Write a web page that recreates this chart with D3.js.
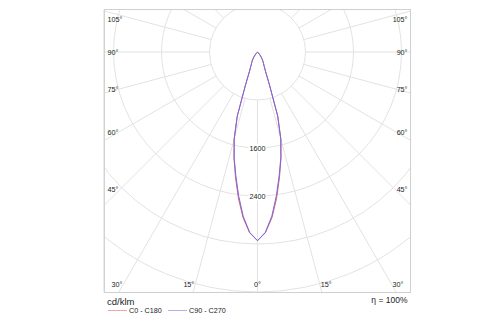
<!DOCTYPE html>
<html>
<head>
<meta charset="utf-8">
<script src="https://cdn.jsdelivr.net/npm/d3@7"></script>
<style>
  html, body { margin: 0; padding: 0; background: #fff; }
  svg { display: block; }
  text { font-family: "Liberation Sans", Arial, sans-serif; fill: #222; }
</style>
</head>
<body>
<svg id="chart" width="500" height="325"></svg>
<script>
// ---- data (angles in degrees from nadir, intensities in cd/klm) ----
const gammaAngles = [0, 2.5, 5, 7.5, 10, 12.5, 15, 17.5, 20, 22.5, 25, 27.5, 30, 32.5, 35, 37.5, 40, 42.5, 45, 50, 90, 180];
const c0c180      = [3145, 3015, 2770, 2450, 2115, 1810, 1505, 1120, 583, 350, 267, 217, 183, 150, 117, 83, 50, 25, 8, 0, 0, 0];
const c90c270     = [3145, 3008, 2745, 2413, 2085, 1797, 1500, 1120, 583, 350, 267, 217, 183, 150, 117, 83, 50, 25, 8, 0, 0, 0];
const seriesNames = ["C0 - C180", "C90 - C270"];
const seriesColors = ["#e0605c", "#7468e6"];
const ringValues = [800, 1600, 2400, 3200, 4000, 4800, 5600, 6400];
const ringLabels = [1600, 2400];
const sideAngles = [45, 60, 75, 90, 105];
const bottomAngles = [30, 15, 0];
const unitLabel = "cd/klm";
const effLabel = "η = 100%";

// ---- layout ----
const svg = d3.select("#chart");
const frame = { x: 104.5, y: 9.5, w: 306, h: 283 };
const cx = 257.5, cy = 52;
const r = d3.scaleLinear().domain([0, 800]).range([0, 48]);
const toRad = d => d * Math.PI / 180;

svg.append("defs").append("clipPath").attr("id", "clip")
  .append("rect").attr("x", frame.x).attr("y", frame.y).attr("width", frame.w).attr("height", frame.h);

const g = svg.append("g").attr("clip-path", "url(#clip)");
const plot = g.append("g").attr("transform", `translate(${cx},${cy})`);

// grid circles
plot.selectAll("circle.ring").data(ringValues).join("circle")
  .attr("class", "ring").attr("r", d => r(d))
  .attr("fill", "none").attr("stroke", "#e2e2e2").attr("stroke-width", 1);

// radial lines every 15 deg, starting at first ring
const spokes = d3.range(0, 360, 15);
plot.selectAll("line.spoke").data(spokes).join("line")
  .attr("class", "spoke")
  .attr("x1", d => r(800) * Math.sin(toRad(d)))
  .attr("y1", d => r(800) * Math.cos(toRad(d)))
  .attr("x2", d => r(8000) * Math.sin(toRad(d)))
  .attr("y2", d => r(8000) * Math.cos(toRad(d)))
  .attr("stroke", "#e2e2e2").attr("stroke-width", 1);

// ring labels with white background
ringLabels.forEach(v => {
  const lg = plot.append("g").attr("transform", `translate(0,${r(v)})`);
  lg.append("rect").attr("x", -9).attr("y", -4.5).attr("width", 18).attr("height", 9).attr("fill", "#fff");
  lg.append("text").attr("text-anchor", "middle").attr("dy", "0.35em")
    .attr("font-size", 7.2).text(v);
});

// curves
function fullCurve(vals) {
  const pts = [];
  for (let i = gammaAngles.length - 1; i >= 0; i--) pts.push([-gammaAngles[i], vals[i]]);
  for (let i = 1; i < gammaAngles.length; i++) pts.push([gammaAngles[i], vals[i]]);
  return pts;
}
const radial = d3.lineRadial()
  .angle(d => Math.PI - toRad(d[0]))
  .radius(d => r(d[1]))
  .curve(d3.curveLinear);

[c0c180, c90c270].forEach((vals, i) => {
  plot.append("path").attr("d", radial(fullCurve(vals)))
    .attr("fill", "none").attr("stroke", seriesColors[i]).attr("stroke-width", 1);
});

// frame
svg.append("rect").attr("x", frame.x).attr("y", frame.y).attr("width", frame.w).attr("height", frame.h)
  .attr("fill", "none").attr("stroke", "#cfcfcf").attr("stroke-width", 1);
svg.append("line").attr("x1", frame.x - 0.5).attr("x2", frame.x - 0.5).attr("y1", frame.y).attr("y2", frame.y + frame.h)
  .attr("stroke", "#d6d6d6").attr("stroke-width", 1);

// side angle labels
const D = 136;
sideAngles.forEach(a => {
  let y = cy + D / Math.tan(toRad(a));
  if (a < 90) y += 1.5; else if (a > 90) y += 4; 
  svg.append("text").attr("x", frame.x + 3).attr("y", y).attr("dy", "0.35em")
    .attr("font-size", 7.2).text(a + "°");
  svg.append("text").attr("x", frame.x + frame.w - 3).attr("y", y).attr("dy", "0.35em")
    .attr("text-anchor", "end").attr("font-size", 7.2).text(a + "°");
});

// bottom angle labels
const by = 284.3;
bottomAngles.forEach(a => {
  const dx = (by - cy) * Math.tan(toRad(a));
  if (a === 0) {
    svg.append("text").attr("x", cx).attr("y", by).attr("dy", "0.35em")
      .attr("text-anchor", "middle").attr("font-size", 7.2).text(a + "°");
  } else {
    const xl = Math.max(cx - dx - 1, frame.x + 3 + 12);
    const xr = Math.min(cx + dx + 1, frame.x + frame.w - 3 - 12);
    svg.append("text").attr("x", xl).attr("y", by).attr("dy", "0.35em")
      .attr("text-anchor", "end").attr("font-size", 7.2).text(a + "°");
    svg.append("text").attr("x", xr).attr("y", by).attr("dy", "0.35em")
      .attr("text-anchor", "start").attr("font-size", 7.2).text(a + "°");
  }
});

// unit + efficiency
svg.append("text").attr("x", 107).attr("y", 301.7).attr("dy", "0.35em")
  .attr("font-size", 9.5).text(unitLabel);
svg.append("text").attr("x", frame.x + frame.w - 3).attr("y", 300).attr("dy", "0.35em")
  .attr("text-anchor", "end").attr("font-size", 8.5).text(effLabel);

// legend
const legX = [108, 168];
seriesNames.forEach((name, i) => {
  svg.append("line").attr("x1", legX[i]).attr("x2", legX[i] + 19).attr("y1", 310.5).attr("y2", 310.5)
    .attr("stroke", seriesColors[i]).attr("stroke-opacity", 0.55).attr("stroke-width", 1);
  svg.append("text").attr("x", legX[i] + 21).attr("y", 310.5).attr("dy", "0.35em")
    .attr("font-size", 7.2).text(name);
});
</script>
</body>
</html>
